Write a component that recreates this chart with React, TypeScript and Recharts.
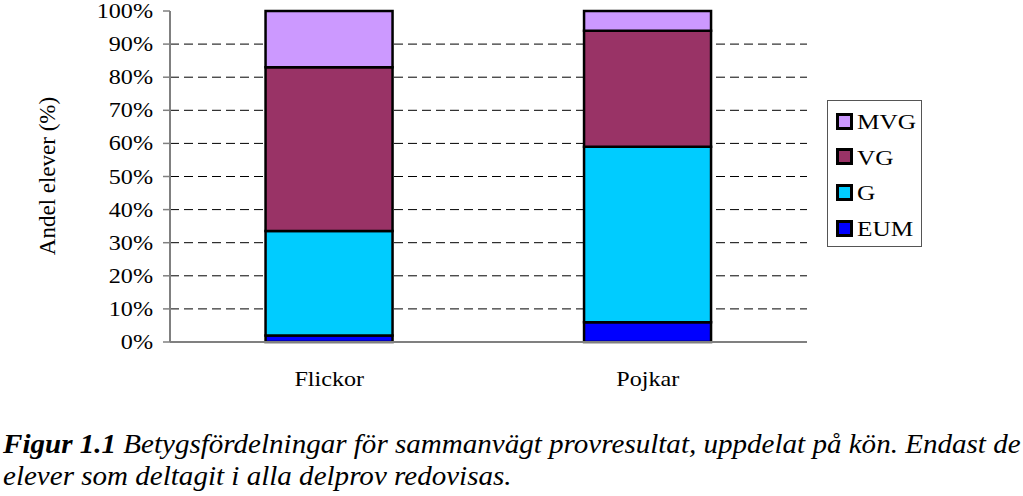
import React from "react";
import {
  BarChart,
  Bar,
  XAxis,
  YAxis,
  CartesianGrid,
} from "recharts";

const categories = ["Flickor", "Pojkar"];
const eum = [2, 6];
const g = [31.5, 53];
const vg = [49.5, 35];
const mvg = [17, 6];
const yTicks = [0, 10, 20, 30, 40, 50, 60, 70, 80, 90, 100];

const SERIES = [
  { key: "EUM", values: eum, color: "#0000FF" },
  { key: "G", values: g, color: "#00CCFF" },
  { key: "VG", values: vg, color: "#993366" },
  { key: "MVG", values: mvg, color: "#CC99FF" },
];

const FONT = "Liberation Serif";
const STRETCH = 1.15;

const data = categories.map((name, i) => {
  const row: Record<string, string | number> = { name };
  SERIES.forEach((s) => {
    row[s.key] = s.values[i];
  });
  return row;
});

// Excel-ish text: slightly wider than plain Times
function YTick(props: any) {
  const { x, y, payload } = props;
  return (
    <text
      transform={`translate(${x - 8},${y + 7}) scale(${STRETCH},1)`}
      textAnchor="end"
      fontSize={21}
      fontFamily={FONT}
      fill="#000"
    >
      {`${payload.value}%`}
    </text>
  );
}

function XTick(props: any) {
  const { x, y, payload } = props;
  return (
    <text
      transform={`translate(${x},${y + 36}) scale(${STRETCH},1)`}
      textAnchor="middle"
      fontSize={21}
      fontFamily={FONT}
      fill="#000"
    >
      {payload.value}
    </text>
  );
}

function YTitle() {
  return (
    <text
      transform="translate(55,176) rotate(-90)"
      textAnchor="middle"
      fontSize={23}
      fontFamily={FONT}
      fill="#000"
    >
      Andel elever (%)
    </text>
  );
}

function Legend() {
  const items = [...SERIES].reverse();
  return (
    <div
      style={{
        position: "absolute",
        left: 827,
        top: 100,
        width: 95,
        height: 147,
        border: "1px solid #555",
        background: "#fff",
        boxSizing: "border-box",
        fontFamily: FONT,
        fontSize: 22,
      }}
    >
      {items.map((s, i) => (
        <div
          key={s.key}
          style={{
            position: "absolute",
            left: 8,
            top: 11 + i * 35.7,
            display: "flex",
            alignItems: "center",
            height: 18,
          }}
        >
          <span
            style={{
              display: "inline-block",
              width: 11,
              height: 11,
              background: s.color,
              border: "3px solid #000",
              marginRight: 4,
              flex: "none",
            }}
          />
          <span
            style={{
              display: "inline-block",
              transform: `scaleX(${STRETCH})`,
              transformOrigin: "left center",
              lineHeight: "18px",
              marginTop: 2,
            }}
          >
            {s.key}
          </span>
        </div>
      ))}
    </div>
  );
}

export default function App() {
  return (
    <div
      style={{
        position: "absolute",
        left: 0,
        top: 0,
        width: 1023,
        height: 496,
        background: "#fff",
        overflow: "hidden",
      }}
    >
      <BarChart
        width={1023}
        height={400}
        data={data}
        margin={{ top: 11, right: 216, left: 0, bottom: 0 }}
        barCategoryGap="30%"
      >
        <CartesianGrid
          vertical={false}
          stroke="#000"
          strokeDasharray="9 5"
          horizontalValues={[10, 20, 30, 40, 50, 60, 70, 80, 90]}
        />
        <XAxis
          dataKey="name"
          height={58}
          axisLine={{ stroke: "#808080", strokeWidth: 2 }}
          tickLine={false}
          tick={<XTick />}
        />
        <XAxis
          xAxisId="top"
          dataKey="name"
          orientation="top"
          height={0}
          axisLine={{ stroke: "#808080", strokeWidth: 2 }}
          tickLine={false}
          tick={false}
        />
        <YAxis
          width={170}
          domain={[0, 100]}
          ticks={yTicks}
          interval={0}
          axisLine={{ stroke: "#808080", strokeWidth: 2 }}
          tickLine={{ stroke: "#808080", strokeWidth: 1.5 }}
          tickSize={7}
          tick={<YTick />}
          label={<YTitle />}
        />
        <YAxis
          yAxisId="right"
          orientation="right"
          width={0}
          domain={[0, 100]}
          axisLine={{ stroke: "#808080", strokeWidth: 2 }}
          tickLine={false}
          tick={false}
        />
        {SERIES.map((s) => (
          <Bar
            key={s.key}
            dataKey={s.key}
            stackId="a"
            fill={s.color}
            stroke="#000"
            strokeWidth={2.5}
            isAnimationActive={false}
          />
        ))}
      </BarChart>
      <Legend />
      <div
        style={{
          position: "absolute",
          left: 3,
          top: 428,
          fontFamily: FONT,
          fontStyle: "italic",
          fontSize: 27,
          lineHeight: "32px",
          whiteSpace: "nowrap",
          transform: "scaleX(1.076)",
          transformOrigin: "left top",
          color: "#000",
        }}
      >
        <div>
          <b>Figur 1.1</b> Betygsfördelningar för sammanvägt provresultat, uppdelat på kön. Endast de
        </div>
        <div>elever som deltagit i alla delprov redovisas.</div>
      </div>
    </div>
  );
}
